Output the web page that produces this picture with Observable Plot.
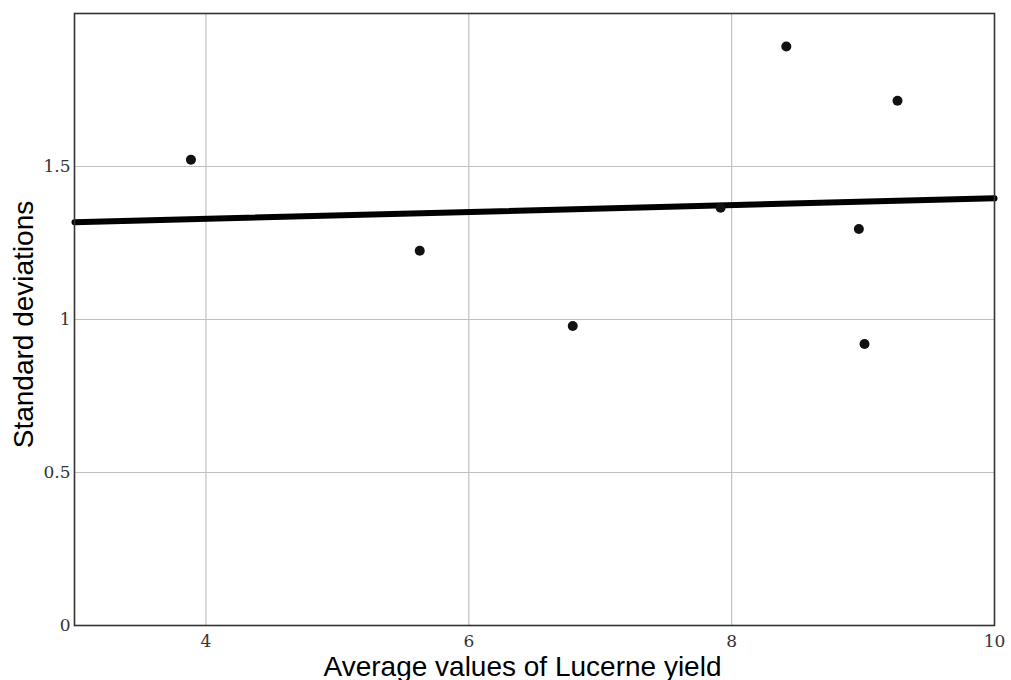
<!DOCTYPE html>
<html>
<head>
<meta charset="utf-8">
<script src="https://cdn.jsdelivr.net/npm/d3@7"></script>
<script src="https://cdn.jsdelivr.net/npm/@observablehq/plot@0.6"></script>
<style>
  html, body { margin: 0; padding: 0; background: #fff; }
  #chart { width: 1011px; height: 680px; }
</style>
</head>
<body>
<div id="chart"></div>
<script>
const yieldMeans = [3.886, 5.627, 6.791, 7.916, 8.416, 8.968, 9.011, 9.262];
const stdDevs    = [1.522, 1.2245, 0.979, 1.365, 1.892, 1.296, 0.920, 1.715];
const trendX = [3, 10];
const trendY = [1.318, 1.396];
const xTicks = [4, 6, 8, 10];
const yTicks = [0, 0.5, 1, 1.5];
const xGrid = [4, 6, 8];
const yGrid = [0.5, 1, 1.5];
const xTitle = "Average values of Lucerne yield";
const yTitle = "Standard deviations";

const points = yieldMeans.map((x, i) => ({x, y: stdDevs[i]}));
const trend = trendX.map((x, i) => ({x, y: trendY[i]}));

const chart = Plot.plot({
  width: 1011,
  height: 680,
  marginLeft: 74,
  marginRight: 17,
  marginTop: 13,
  marginBottom: 55,
  style: {background: "#fff"},
  x: {domain: [3, 10], axis: null},
  y: {domain: [0, 2], axis: null},
  marks: [
    Plot.gridX(xGrid, {stroke: "#c0c0c0", strokeOpacity: 1, strokeWidth: 1.2}),
    Plot.gridY(yGrid, {stroke: "#c0c0c0", strokeOpacity: 1, strokeWidth: 1.2}),
    Plot.text(xTicks, {x: d => d, frameAnchor: "bottom", lineAnchor: "top", dy: 9, text: d => String(d),
      fontSize: 17, fontFamily: "DejaVu Serif", fill: "#333"}),
    Plot.text(yTicks, {y: d => d, frameAnchor: "left", textAnchor: "end", dx: -4, text: d => String(d),
      fontSize: 17, fontFamily: "DejaVu Serif", fill: "#333"}),
    Plot.line(trend, {x: "x", y: "y", stroke: "#000", strokeWidth: 6}),
    Plot.dot(points, {x: "x", y: "y", r: 5, fill: "#111", stroke: "none"}),
    Plot.frame({stroke: "#333", strokeWidth: 1.6}),
    Plot.text([xTitle], {frameAnchor: "bottom", lineAnchor: "bottom", dx: -12, dy: 50, fontSize: 28, fontFamily: "Liberation Sans", fill: "#000"}),
    Plot.text([yTitle], {frameAnchor: "left", textAnchor: "middle", dx: -50, dy: 5, rotate: -90, fontSize: 28, fontFamily: "Liberation Sans", fill: "#000"})
  ]
});
document.getElementById("chart").appendChild(chart);
</script>
</body>
</html>
